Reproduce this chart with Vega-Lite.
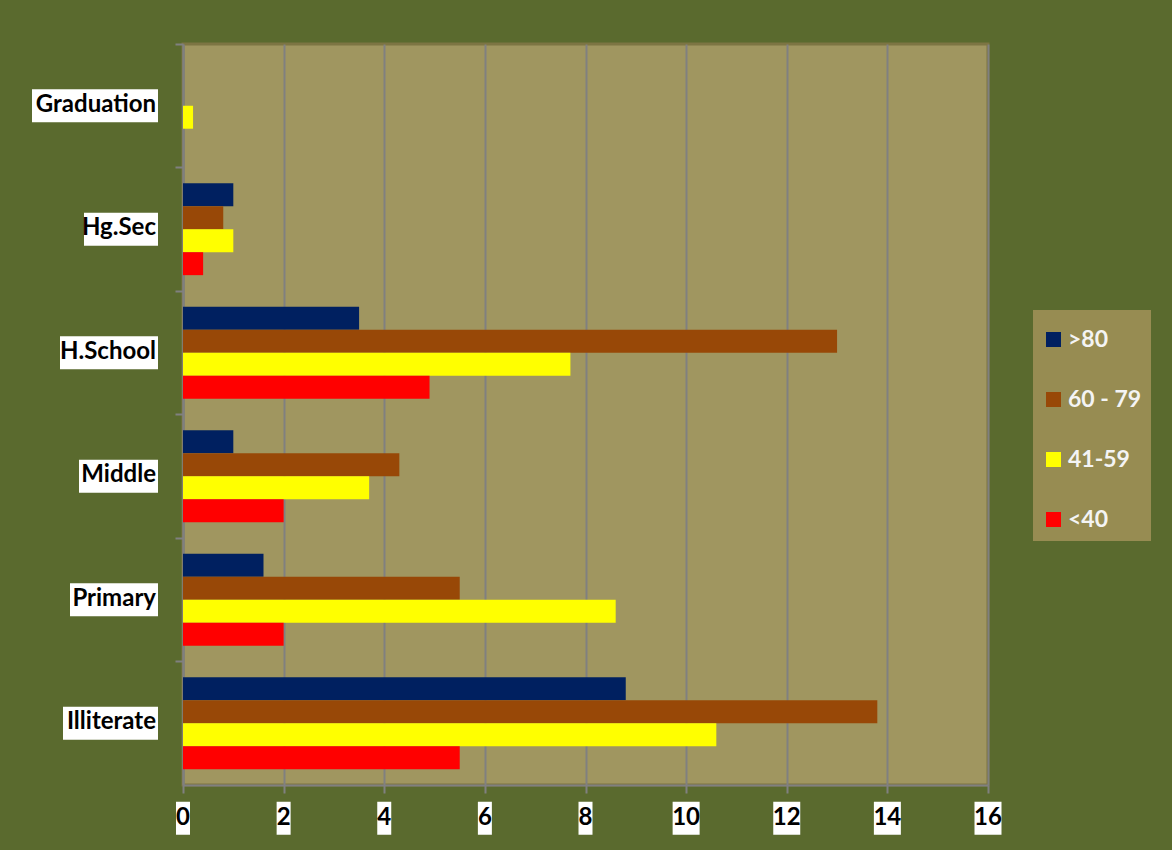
{
  "$schema": "https://vega.github.io/schema/vega-lite/v6.json",
  "width": 805,
  "height": 741,
  "autosize": "none",
  "padding": {"left": 183, "top": 44, "right": 184, "bottom": 65},
  "background": "#5a6a2e",
  "config": {
    "view": {"fill": "#a09660", "stroke": "#7d7543", "strokeWidth": 3},
    "font": "Lato",
    "legend": {
      "orient": "none",
      "legendX": 850,
      "legendY": 266,
      "fillColor": "#978c52",
      "padding": 9,
      "symbolType": "square",
      "symbolSize": 225,
      "symbolStrokeWidth": 0,
      "labelColor": "#f4f4f4",
      "labelFont": "Lato",
      "labelFontWeight": "bold",
      "labelFontSize": 23,
      "rowPadding": 36,
      "labelOffset": 3,
      "titleFontSize": 1,
      "titlePadding": 8
    }
  },
  "datasets": {
    "scores": [
      {"level": "Graduation", "group": ">80", "value": 0},
      {"level": "Graduation", "group": "60 - 79", "value": 0},
      {"level": "Graduation", "group": "41-59", "value": 0.2},
      {"level": "Graduation", "group": "<40", "value": 0},
      {"level": "Hg.Sec", "group": ">80", "value": 1},
      {"level": "Hg.Sec", "group": "60 - 79", "value": 0.8},
      {"level": "Hg.Sec", "group": "41-59", "value": 1},
      {"level": "Hg.Sec", "group": "<40", "value": 0.4},
      {"level": "H.School", "group": ">80", "value": 3.5},
      {"level": "H.School", "group": "60 - 79", "value": 13},
      {"level": "H.School", "group": "41-59", "value": 7.7},
      {"level": "H.School", "group": "<40", "value": 4.9},
      {"level": "Middle", "group": ">80", "value": 1},
      {"level": "Middle", "group": "60 - 79", "value": 4.3},
      {"level": "Middle", "group": "41-59", "value": 3.7},
      {"level": "Middle", "group": "<40", "value": 2},
      {"level": "Primary", "group": ">80", "value": 1.6},
      {"level": "Primary", "group": "60 - 79", "value": 5.5},
      {"level": "Primary", "group": "41-59", "value": 8.6},
      {"level": "Primary", "group": "<40", "value": 2},
      {"level": "Illiterate", "group": ">80", "value": 8.8},
      {"level": "Illiterate", "group": "60 - 79", "value": 13.8},
      {"level": "Illiterate", "group": "41-59", "value": 10.6},
      {"level": "Illiterate", "group": "<40", "value": 5.5}
    ],
    "ticks": [
      {"tick": 0}, {"tick": 2}, {"tick": 4}, {"tick": 6}, {"tick": 8},
      {"tick": 10}, {"tick": 12}, {"tick": 14}, {"tick": 16}
    ]
  },
  "layer": [
    {
      "data": {"name": "scores"},
      "mark": {"type": "bar"},
      "encoding": {
        "y": {
          "field": "level",
          "type": "nominal",
          "sort": ["Graduation", "Hg.Sec", "H.School", "Middle", "Primary", "Illiterate"],
          "scale": {"paddingInner": 0, "paddingOuter": 0},
          "axis": {
            "bandPosition": 0,
            "labels": false,
            "title": null,
            "grid": false,
            "tickSize": 8,
            "tickColor": "#808080",
            "tickWidth": 2,
            "domainColor": "#808080",
            "domainWidth": 2
          }
        },
        "yOffset": {
          "field": "group",
          "type": "nominal",
          "sort": [">80", "60 - 79", "41-59", "<40"],
          "scale": {"paddingInner": 0, "paddingOuter": 0.69}
        },
        "x": {
          "field": "value",
          "type": "quantitative",
          "scale": {"domain": [0, 16], "nice": false},
          "axis": {
            "values": [0, 2, 4, 6, 8, 10, 12, 14, 16],
            "labels": false,
            "title": null,
            "grid": true,
            "gridColor": "#808080",
            "gridWidth": 2,
            "tickSize": 8,
            "tickColor": "#808080",
            "tickWidth": 2,
            "domainColor": "#808080",
            "domainWidth": 2
          }
        },
        "color": {
          "field": "group",
          "type": "nominal",
          "scale": {
            "domain": [">80", "60 - 79", "41-59", "<40"],
            "range": ["#002060", "#984807", "#ffff00", "#ff0000"]
          },
          "legend": {"title": " "}
        }
      }
    },
    {
      "data": {"name": "scores"},
      "transform": [{"filter": "datum.group === '>80' && datum.level === 'Graduation'"}],
      "mark": {"type": "rect", "color": "white", "height": 33, "xOffset": -151, "x2Offset": -25},
      "encoding": {
        "y": {"field": "level", "type": "nominal", "sort": ["Graduation", "Hg.Sec", "H.School", "Middle", "Primary", "Illiterate"]},
        "x": {"datum": 0},
        "x2": {"datum": 0}
      }
    },
    {
      "data": {"name": "scores"},
      "transform": [{"filter": "datum.group === '>80' && datum.level === 'Hg.Sec'"}],
      "mark": {"type": "rect", "color": "white", "height": 33, "xOffset": -99, "x2Offset": -25},
      "encoding": {
        "y": {"field": "level", "type": "nominal", "sort": ["Graduation", "Hg.Sec", "H.School", "Middle", "Primary", "Illiterate"]},
        "x": {"datum": 0},
        "x2": {"datum": 0}
      }
    },
    {
      "data": {"name": "scores"},
      "transform": [{"filter": "datum.group === '>80' && datum.level === 'H.School'"}],
      "mark": {"type": "rect", "color": "white", "height": 33, "xOffset": -123, "x2Offset": -25},
      "encoding": {
        "y": {"field": "level", "type": "nominal", "sort": ["Graduation", "Hg.Sec", "H.School", "Middle", "Primary", "Illiterate"]},
        "x": {"datum": 0},
        "x2": {"datum": 0}
      }
    },
    {
      "data": {"name": "scores"},
      "transform": [{"filter": "datum.group === '>80' && datum.level === 'Middle'"}],
      "mark": {"type": "rect", "color": "white", "height": 33, "xOffset": -104, "x2Offset": -25},
      "encoding": {
        "y": {"field": "level", "type": "nominal", "sort": ["Graduation", "Hg.Sec", "H.School", "Middle", "Primary", "Illiterate"]},
        "x": {"datum": 0},
        "x2": {"datum": 0}
      }
    },
    {
      "data": {"name": "scores"},
      "transform": [{"filter": "datum.group === '>80' && datum.level === 'Primary'"}],
      "mark": {"type": "rect", "color": "white", "height": 33, "xOffset": -113, "x2Offset": -25},
      "encoding": {
        "y": {"field": "level", "type": "nominal", "sort": ["Graduation", "Hg.Sec", "H.School", "Middle", "Primary", "Illiterate"]},
        "x": {"datum": 0},
        "x2": {"datum": 0}
      }
    },
    {
      "data": {"name": "scores"},
      "transform": [{"filter": "datum.group === '>80' && datum.level === 'Illiterate'"}],
      "mark": {"type": "rect", "color": "white", "height": 33, "xOffset": -120, "x2Offset": -25},
      "encoding": {
        "y": {"field": "level", "type": "nominal", "sort": ["Graduation", "Hg.Sec", "H.School", "Middle", "Primary", "Illiterate"]},
        "x": {"datum": 0},
        "x2": {"datum": 0}
      }
    },
    {
      "data": {"name": "scores"},
      "transform": [{"filter": "datum.group === '>80'"}],
      "mark": {"type": "text", "align": "right", "baseline": "middle", "dx": -27, "dy": -1, "font": "Lato", "fontWeight": "bold", "fontSize": 24, "color": "black"},
      "encoding": {
        "y": {"field": "level", "type": "nominal", "sort": ["Graduation", "Hg.Sec", "H.School", "Middle", "Primary", "Illiterate"]},
        "x": {"datum": 0},
        "text": {"field": "level"}
      }
    },
    {
      "data": {"name": "ticks"},
      "transform": [{"filter": "datum.tick < 10"}],
      "mark": {"type": "rect", "color": "white", "width": 14, "height": 33, "yOffset": 95},
      "encoding": {
        "x": {"field": "tick", "type": "quantitative"},
        "y": {"datum": "Illiterate", "type": "nominal"}
      }
    },
    {
      "data": {"name": "ticks"},
      "transform": [{"filter": "datum.tick >= 10"}],
      "mark": {"type": "rect", "color": "white", "width": 27, "height": 33, "yOffset": 95},
      "encoding": {
        "x": {"field": "tick", "type": "quantitative"},
        "y": {"datum": "Illiterate", "type": "nominal"}
      }
    },
    {
      "data": {"name": "ticks"},
      "mark": {"type": "text", "align": "center", "baseline": "middle", "dy": 95, "font": "Lato", "fontWeight": "bold", "fontSize": 24, "color": "black"},
      "encoding": {
        "x": {"field": "tick", "type": "quantitative"},
        "y": {"datum": "Illiterate", "type": "nominal"},
        "text": {"field": "tick", "type": "quantitative"}
      }
    }
  ]
}
